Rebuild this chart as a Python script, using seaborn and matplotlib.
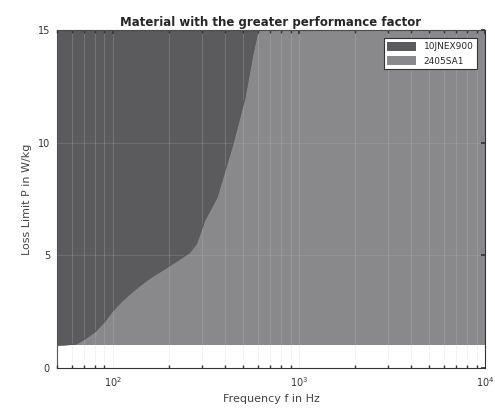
import matplotlib
matplotlib.use("Agg")
import matplotlib.pyplot as plt
import seaborn as sns
import numpy as np
from matplotlib.patches import Patch

# boundary between the two materials
freq = [50, 63, 71, 80, 90, 100, 112, 133, 156, 194, 258, 281, 311, 362, 442, 512, 566, 603]
p_limit = [1.0, 1.05, 1.3, 1.6, 2.05, 2.55, 2.98, 3.52, 3.96, 4.45, 5.12, 5.52, 6.55, 7.57, 9.97, 12.0, 13.98, 15.0]
materials = ["10JNEX900", "2405SA1"]
colors = ["#5b5b5d", "#89898c"]
f_min, f_max = 50, 10000
p_min, p_max = 1, 15

sns.set_theme(style="white")
plt.rcParams["font.family"] = ["DejaVu Sans"]

fig = plt.figure(figsize=(4.95, 4.11), dpi=100)
ax = fig.add_axes([0.115, 0.105, 0.865, 0.822])

# lighter material fills the whole band, darker on top-left of the boundary
ax.fill_between([f_min, f_max], p_min, p_max, color=colors[1], linewidth=0, zorder=1)
ax.fill_between(freq, p_limit, p_max, color=colors[0], linewidth=0, zorder=2)
sns.lineplot(x=freq, y=p_limit, ax=ax, color=colors[0], linewidth=0.8, zorder=3)

ax.set_xscale("log")
ax.set_xlim(f_min, f_max)
ax.set_ylim(0, 15)
ax.set_yticks([0, 5, 10, 15])

# MATLAB style grid
ax.grid(True, which="both", axis="x", color="#c8c8c8", linewidth=0.6, alpha=0.28, zorder=4)
ax.grid(True, which="major", axis="y", color="#c8c8c8", linewidth=0.6, alpha=0.2, zorder=4)
ax.set_axisbelow(False)

ax.tick_params(which="both", direction="in", top=True, right=True, labelsize=7, colors="#333333")
ax.tick_params(which="major", length=3, pad=5)
ax.tick_params(which="minor", length=2, bottom=True)
for s in ax.spines.values():
    s.set_color("#333333")
    s.set_linewidth(0.8)

ax.set_xlabel("Frequency f in Hz", fontsize=8, color="#444444")
ax.set_ylabel("Loss Limit P in W/kg", fontsize=8, color="#444444")
ax.set_title("Material with the greater performance factor", fontsize=8.5, fontweight="bold", pad=3)

handles = [Patch(facecolor=colors[0], edgecolor="none"), Patch(facecolor=colors[1], edgecolor="none")]
leg = ax.legend(handles, materials, loc="upper right", fontsize=6.5, fancybox=False,
                framealpha=1, edgecolor="#333333", handlelength=3.2, handleheight=1.2,
                borderaxespad=0.9)
leg.get_frame().set_linewidth(0.8)

fig.savefig("out.png", dpi=100)
